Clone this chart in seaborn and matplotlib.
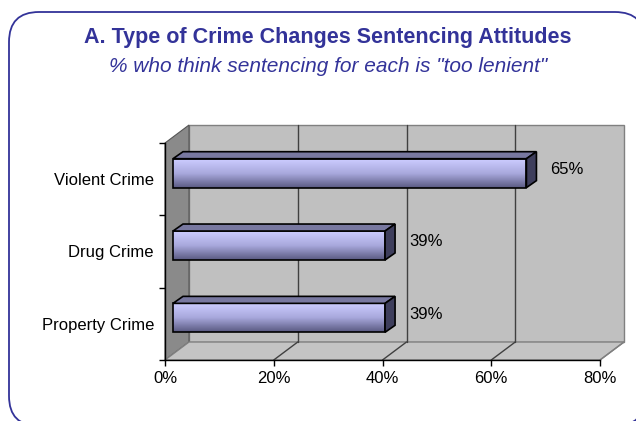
import numpy as np
import pandas as pd
import seaborn as sns
import matplotlib.pyplot as plt
from matplotlib.patches import Polygon, FancyBboxPatch, Rectangle
from matplotlib.transforms import ScaledTranslation
from matplotlib.colors import LinearSegmentedColormap

# data
categories = ["Violent Crime", "Drug Crime", "Property Crime"]
values = [0.65, 0.39, 0.39]
value_labels = ["65%", "39%", "39%"]
x_ticks = [0, 0.2, 0.4, 0.6, 0.8]
x_tick_labels = ["0%", "20%", "40%", "60%", "80%"]
title = "A. Type of Crime Changes Sentencing Attitudes"
subtitle = '% who think sentencing for each is "too lenient"'

sns.set_theme(style="white")
plt.rcParams['font.family'] = ['Liberation Sans', 'DejaVu Sans']

W, H = 636, 421
fig = plt.figure(figsize=(W / 100, H / 100), dpi=100)

# frame + titles, in pixel units
bg = fig.add_axes([0, 0, 1, 1])
bg.set_xlim(0, W)
bg.set_ylim(H, 0)
bg.axis('off')
bg.add_patch(FancyBboxPatch((9, 12), 636, 414, boxstyle="round,pad=0,rounding_size=30",
                            fc='white', ec='#333399', lw=1.3))
bg.text(328, 38, title, ha='center', va='center', fontsize=15.5, fontweight='bold', color='#333399')
bg.text(328, 66, subtitle, ha='center', va='center', fontsize=15, fontstyle='italic', color='#333399')

# front plane of the 3d box
L, R, T, B = 165, 600, 143, 360
ax = fig.add_axes([L / W, 1 - B / H, (R - L) / W, (B - T) / H])
ax.patch.set_alpha(0)

df = pd.DataFrame({'crime': categories, 'share': values})
sns.barplot(data=df, x='share', y='crime', orient='h', width=0.4, ax=ax, color='#b0b0e0')
bars = list(ax.patches)[:len(categories)]
ax.set_xlim(0, 0.8)
ax.set_ylim(2.5, -0.5)

px = fig.dpi_scale_trans
back_off = ScaledTranslation(0.24, 0.18, px)    # depth of box
bar_off = ScaledTranslation(0.08, 0.06, px)     # bars sit a bit inside
bx, by = 24 / (R - L), 18 / (B - T)

# walls
ax.add_patch(Rectangle((bx, by), 1, 1, transform=ax.transAxes, fc='#c0c0c0', ec='#808080',
                       lw=1, zorder=0, clip_on=False))
ax.add_patch(Polygon([(0, 0), (bx, by), (bx, 1 + by), (0, 1)], closed=True, transform=ax.transAxes,
                     fc='#8a8a8a', ec='#555555', lw=0.8, zorder=0.5, clip_on=False))
ax.add_patch(Polygon([(0, 0), (1, 0), (1 + bx, by), (bx, by)], closed=True, transform=ax.transAxes,
                     fc='#c4c4c4', ec='#808080', lw=1, zorder=0.5, clip_on=False))
for t in x_ticks[1:-1]:
    ax.plot([t, t], [2.5, -0.5], color='#404040', lw=1, transform=ax.transData + back_off,
            zorder=0.6, clip_on=False)
for t in x_ticks[1:]:
    f = t / 0.8
    ax.plot([f, f + bx], [0, by], color='#404040' if t < 0.8 else '#808080', lw=1,
            transform=ax.transAxes, zorder=0.7, clip_on=False)

# bars: gradient front face, top and end faces
cmap = LinearSegmentedColormap.from_list('bar', ['#ccccff', '#a8a8dc', '#5a5a82'])
grad = np.linspace(0, 1, 64).reshape(-1, 1)
ddx = 10 / (R - L) * 0.8
ddy = 7 / (B - T) * 3
for p in bars:
    x0, y0, w, h = p.get_x(), p.get_y(), p.get_width(), p.get_height()
    x1 = x0 + w
    tr = ax.transData + bar_off
    p.set_transform(tr)
    p.set_facecolor('none')
    p.set_edgecolor('black')
    p.set_linewidth(1.2)
    p.set_zorder(5)
    p.set_clip_on(False)
    ax.imshow(grad, extent=(x0, x1, y0 + h, y0), aspect='auto', cmap=cmap,
              transform=tr, zorder=4, clip_on=False)
    ax.add_patch(Polygon([(x0, y0), (x1, y0), (x1 + ddx, y0 - ddy), (x0 + ddx, y0 - ddy)], closed=True,
                         transform=tr, fc='#7878a0', ec='black', lw=1.2, zorder=5, clip_on=False))
    ax.add_patch(Polygon([(x1, y0), (x1 + ddx, y0 - ddy), (x1 + ddx, y0 + h - ddy), (x1, y0 + h)], closed=True,
                         transform=tr, fc='#3e3e5c', ec='black', lw=1.2, zorder=5, clip_on=False))

for i, (v, lab) in enumerate(zip(values, value_labels)):
    ax.annotate(lab, (v, i), xytext=(23, 7), textcoords='offset points', ha='left', va='center',
                fontsize=12, color='black', zorder=6)

ax.set_xlim(0, 0.8)
ax.set_ylim(2.5, -0.5)
ax.set_xticks(x_ticks, x_tick_labels)
ax.set_yticks([0, 1, 2], categories)
ax.set_yticks([-0.5, 0.5, 1.5, 2.5], minor=True)
ax.tick_params(axis='x', direction='out', length=4, width=1, color='black', pad=4, labelsize=12,
               labelcolor='black', bottom=True)
ax.tick_params(axis='y', which='major', length=0, pad=8, labelsize=12, labelcolor='black', left=True)
ax.tick_params(axis='y', which='minor', direction='out', length=4, width=1, color='black', left=True)
ax.set_xlabel('')
ax.set_ylabel('')
ax.grid(False)
for s in ['top', 'right']:
    ax.spines[s].set_visible(False)
for s in ['left', 'bottom']:
    ax.spines[s].set_color('black')
    ax.spines[s].set_linewidth(1)
    ax.spines[s].set_zorder(3)

plt.savefig('out.png', dpi=100)
